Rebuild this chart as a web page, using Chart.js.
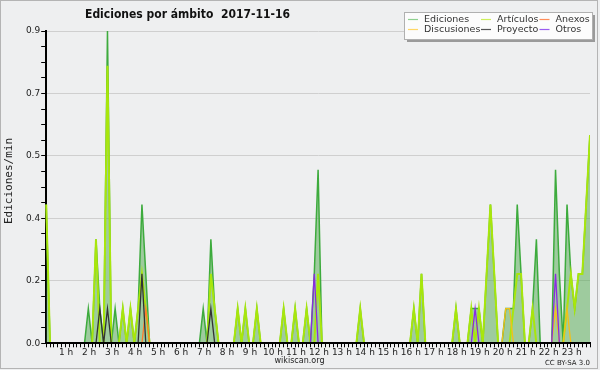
<!DOCTYPE html>
<html>
<head>
<meta charset="utf-8">
<script src="https://cdn.jsdelivr.net/npm/chart.js@4.4.1/dist/chart.umd.min.js"></script>
<style>
  html, body { margin: 0; padding: 0; background: #eeeff0; }
  #wrap { position: relative; width: 600px; height: 370px; }
</style>
</head>
<body>
<div id="wrap"><canvas id="c" width="600" height="370"></canvas></div>
<script>
// 10-minute bins, 00:00 .. 23:40 (the last bin runs off the right edge)
const slots = [];
for (let h = 0; h < 24; h++) {
  for (let m = 0; m < 60; m += 10) slots.push(String(h).padStart(2, '0') + ':' + String(m).padStart(2, '0'));
}
slots.length = 143;

const hourLabels = ['1 h','2 h','3 h','4 h','5 h','6 h','7 h','8 h','9 h','10 h','11 h','12 h',
  '13 h','14 h','15 h','16 h','17 h','18 h','19 h','20 h','21 h','22 h','23 h'];

const yMajor = [0, 0.18, 0.36, 0.54, 0.72, 0.9];

const seriesNames = ['Ediciones', 'Artículos', 'Anexos', 'Discusiones', 'Proyecto', 'Otros'];

// edits per minute, one row per hour (6 bins)
const ediciones = [
  .4, 0, 0, 0, 0, 0,
  0, 0, 0, 0, 0, .1,
  0, .3, .1, 0, .9, 0,
  .1, 0, .1, 0, .1, 0,
  .1, .4, .2, 0, 0, 0,
  0, 0, 0, 0, 0, 0,
  0, 0, 0, 0, 0, .1,
  0, .3, .1, 0, 0, 0,
  0, 0, .1, 0, .1, 0,
  0, .1, 0, 0, 0, 0,
  0, 0, .1, 0, 0, .1,
  0, 0, .1, 0, .2, .5,
  0, 0, 0, 0, 0, 0,
  0, 0, 0, 0, .1, 0,
  0, 0, 0, 0, 0, 0,
  0, 0, 0, 0, 0, 0,
  .1, 0, .2, 0, 0, 0,
  0, 0, 0, 0, 0, .1,
  0, 0, 0, .1, .1, .1,
  0, .2, .4, .2, 0, 0,
  .1, .1, .1, .4, .2, 0,
  0, .1, .3, 0, 0, 0,
  0, .5, .2, 0, .4, .2,
  .1, .2, .2, .4, .6
];

const articulos = [
  .4, 0, 0, 0, 0, 0,
  0, 0, 0, 0, 0, 0,
  0, .3, 0, 0, .8, 0,
  0, 0, .1, 0, .1, 0,
  .1, .2, .1, 0, 0, 0,
  0, 0, 0, 0, 0, 0,
  0, 0, 0, 0, 0, 0,
  0, .2, .1, 0, 0, 0,
  0, 0, .1, 0, .1, 0,
  0, .1, 0, 0, 0, 0,
  0, 0, .1, 0, 0, .1,
  0, 0, .1, 0, 0, .2,
  0, 0, 0, 0, 0, 0,
  0, 0, 0, 0, .1, 0,
  0, 0, 0, 0, 0, 0,
  0, 0, 0, 0, 0, 0,
  .1, 0, .2, 0, 0, 0,
  0, 0, 0, 0, 0, .1,
  0, 0, 0, .1, 0, .1,
  0, .2, .4, .2, 0, 0,
  0, 0, .1, .2, .2, 0,
  0, .1, 0, 0, 0, 0,
  0, 0, 0, 0, .1, .2,
  .1, .2, .2, .4, .6
];

const anexos = new Array(143).fill(0);
anexos[26] = .1;

const discusiones = new Array(143).fill(0);
discusiones[120] = .1; discusiones[121] = .1; discusiones[133] = .1; discusiones[136] = .1;

const proyecto = new Array(143).fill(0);
proyecto[14] = .1; proyecto[16] = .1; proyecto[25] = .2; proyecto[43] = .1;

const otros = new Array(143).fill(0);
otros[70] = .2; otros[112] = .1; otros[133] = .2;

const lineColors = ['#3dab3d', '#a8e60c', '#ff7b2c', '#f2c01a', '#333333', '#8a2be2'];
const swatchColors = ['#8fd08f', '#cdee5a', '#ff8d5a', '#ffd766', '#555555', '#9a5cf0'];

const FONT = '"DejaVu Sans", Verdana, sans-serif';

// draw text squeezed to a given width (the source renders narrower glyphs)
function fitText(ctx, text, cx, cy, w) {
  const m = ctx.measureText(text).width;
  ctx.save();
  ctx.translate(cx, cy);
  ctx.scale(Math.min(1, w / m), 1);
  ctx.fillText(text, 0, 0);
  ctx.restore();
}

const decor = {
  id: 'decor',
  beforeDraw(chart) {
    const ctx = chart.ctx;
    ctx.save();
    ctx.fillStyle = '#eeeff0';
    ctx.fillRect(0, 0, chart.width, chart.height);
    ctx.restore();
  },
  afterDraw(chart) {
    const ctx = chart.ctx;
    ctx.save();
    // title
    ctx.fillStyle = '#111';
    ctx.font = 'bold 13px ' + FONT;
    ctx.textBaseline = 'middle';
    ctx.textAlign = 'center';
    fitText(ctx, 'Ediciones por ámbito  2017-11-16', 187.5, 14.5, 205);

    // axis titles
    ctx.font = '11px "DejaVu Sans Mono", monospace';
    ctx.fillStyle = '#222';
    ctx.save();
    ctx.translate(9, 181);
    ctx.rotate(-Math.PI / 2);
    ctx.fillText('Ediciones/min', 0, 0);
    ctx.restore();
    ctx.font = '9px ' + FONT;
    fitText(ctx, 'wikiscan.org', 299.5, 361, 50);
    ctx.font = '7px ' + FONT;
    ctx.textAlign = 'right';
    ctx.fillText('CC BY-SA 3.0', 590, 363);

    // legend box with shadow
    ctx.fillStyle = '#9a9a9a';
    ctx.fillRect(407, 15, 188, 27);
    ctx.fillStyle = '#fcfcfc';
    ctx.fillRect(404.5, 12.5, 188, 27);
    ctx.strokeStyle = '#b0b0b0';
    ctx.lineWidth = 1;
    ctx.strokeRect(404.5, 12.5, 188, 27);
    const cols = [408, 481, 539.5];
    const order = [[0, 0, 0], [1, 1, 0], [2, 2, 0], [3, 0, 1], [4, 1, 1], [5, 2, 1]];
    ctx.font = '9.5px ' + FONT;
    ctx.textAlign = 'left';
    order.forEach(([k, c, r]) => {
      const y = r ? 29.5 : 19.5;
      ctx.strokeStyle = swatchColors[k];
      ctx.lineWidth = 1.2;
      ctx.beginPath();
      ctx.moveTo(cols[c], y);
      ctx.lineTo(cols[c] + 10, y);
      ctx.stroke();
      ctx.fillStyle = '#333';
      ctx.fillText(seriesNames[k], cols[c] + 16, y);
    });

    // outer frame
    ctx.strokeStyle = '#b4b4b4';
    ctx.lineWidth = 1;
    ctx.strokeRect(0.5, 0.5, 597, 368);
    ctx.restore();
  }
};

const mk = (k, data, extra) => Object.assign({
  label: seriesNames[k],
  data: data,
  borderColor: lineColors[k],
  borderWidth: 1.3,
  pointRadius: 0,
  tension: 0,
  fill: false,
  clip: { left: 3, top: 3, right: 0, bottom: 0 },
  order: 6 - k
}, extra || {});

new Chart(document.getElementById('c'), {
  type: 'line',
  data: {
    labels: slots,
    datasets: [
      mk(0, ediciones, { fill: 'origin', backgroundColor: 'rgba(78,167,76,0.5)', borderWidth: 1.5 }),
      mk(1, articulos, { borderWidth: 2 }),
      mk(2, anexos),
      mk(3, discusiones),
      mk(4, proyecto),
      mk(5, otros)
    ]
  },
  options: {
    responsive: false,
    animation: false,
    events: [],
    layout: { padding: { top: 31, right: 10, left: 0, bottom: 0 } },
    plugins: { legend: { display: false }, tooltip: { enabled: false }, title: { display: false } },
    scales: {
      x: {
        afterFit: (s) => { s.height = 26.7; },
        grid: { drawOnChartArea: false, drawTicks: true, tickLength: 4, tickColor: '#000' },
        border: { color: '#000', width: 2, z: 1 },
        ticks: {
          autoSkip: false,
          maxRotation: 0,
          padding: 0,
          labelOffset: -3,
          color: '#222',
          font: { family: FONT, size: 9 },
          callback: (v, i) => (i % 6 === 0 && i > 0) ? hourLabels[i / 6 - 1] : ''
        }
      },
      y: {
        min: 0,
        max: 0.9,
        afterFit: (s) => { s.width = 46.2; },
        afterBuildTicks: (s) => {
          const t = [];
          for (let j = 0; j < yMajor.length; j++) {
            t.push({ value: yMajor[j], major: true });
            if (j < yMajor.length - 1) {
              const step = (yMajor[j + 1] - yMajor[j]) / 4;
              for (let q = 1; q < 4; q++) t.push({ value: yMajor[j] + q * step });
            }
          }
          s.ticks = t;
        },
        grid: {
          color: (c) => (c.tick && c.tick.major && c.tick.value > 0) ? '#cfcfcf' : 'rgba(0,0,0,0)',
          tickColor: '#000',
          tickLength: 5,
          drawTicks: true
        },
        border: { color: '#000', width: 2 },
        ticks: {
          autoSkip: false,
          padding: 1,
          color: '#222',
          font: { family: FONT, size: 9 },
          callback: function (v, i, ticks) { return ticks[i].major ? v.toFixed(1) : ''; }
        }
      }
    }
  },
  plugins: [decor]
});
</script>
</body>
</html>
